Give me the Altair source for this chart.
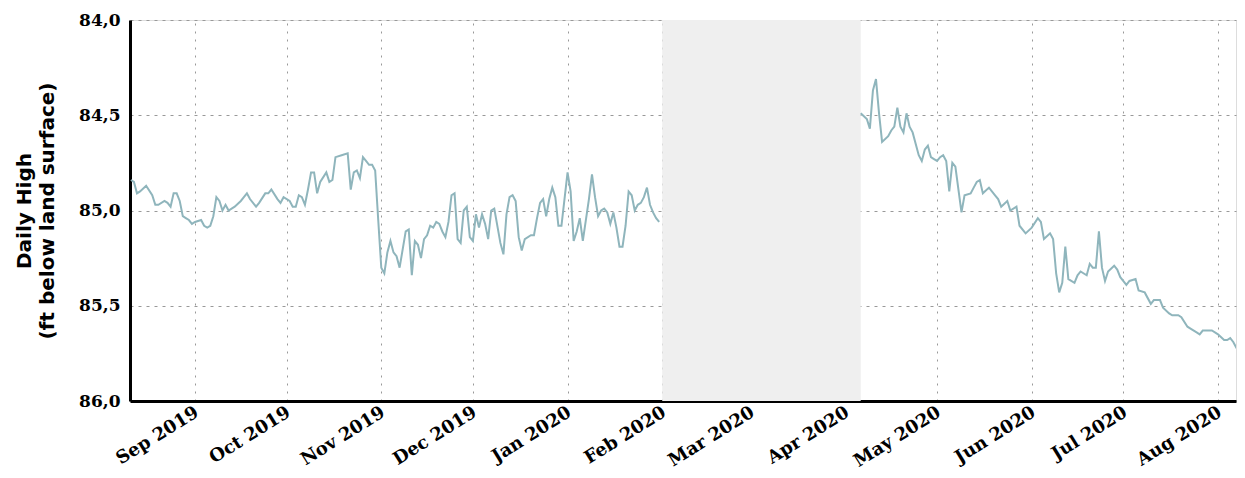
import altair as alt
import pandas as pd

# Segment 1: Aug 2019 - Jan 2020
dates_a = [
    "2019-08-11", "2019-08-12", "2019-08-13", "2019-08-14", "2019-08-16", "2019-08-18",
    "2019-08-19", "2019-08-20", "2019-08-22", "2019-08-23", "2019-08-24", "2019-08-25",
    "2019-08-26", "2019-08-27", "2019-08-28", "2019-08-29", "2019-08-30", "2019-08-31",
    "2019-09-01", "2019-09-03", "2019-09-04", "2019-09-05", "2019-09-06", "2019-09-07",
    "2019-09-08", "2019-09-09", "2019-09-10", "2019-09-11", "2019-09-12", "2019-09-14",
    "2019-09-16", "2019-09-17", "2019-09-18", "2019-09-19", "2019-09-21", "2019-09-22",
    "2019-09-24", "2019-09-25", "2019-09-26", "2019-09-28", "2019-09-29", "2019-09-30",
    "2019-10-02", "2019-10-03", "2019-10-04", "2019-10-05", "2019-10-06", "2019-10-07",
    "2019-10-08", "2019-10-09", "2019-10-10", "2019-10-11", "2019-10-12", "2019-10-14",
    "2019-10-15", "2019-10-16", "2019-10-17", "2019-10-19", "2019-10-21", "2019-10-22",
    "2019-10-23", "2019-10-24", "2019-10-25", "2019-10-26", "2019-10-27", "2019-10-28",
    "2019-10-29", "2019-10-30", "2019-10-31", "2019-11-01", "2019-11-02", "2019-11-03",
    "2019-11-04", "2019-11-05", "2019-11-06", "2019-11-07", "2019-11-09", "2019-11-10",
    "2019-11-11", "2019-11-12", "2019-11-13", "2019-11-14", "2019-11-15", "2019-11-16",
    "2019-11-17", "2019-11-18", "2019-11-19", "2019-11-20", "2019-11-21", "2019-11-22",
    "2019-11-23", "2019-11-24", "2019-11-25", "2019-11-26", "2019-11-27", "2019-11-28",
    "2019-11-29", "2019-11-30", "2019-12-01", "2019-12-02", "2019-12-03", "2019-12-04",
    "2019-12-05", "2019-12-06", "2019-12-07", "2019-12-08", "2019-12-10", "2019-12-11",
    "2019-12-12", "2019-12-13", "2019-12-14", "2019-12-15", "2019-12-16", "2019-12-17",
    "2019-12-18", "2019-12-20", "2019-12-21", "2019-12-22", "2019-12-23", "2019-12-24",
    "2019-12-25", "2019-12-26", "2019-12-27", "2019-12-28", "2019-12-29", "2019-12-30",
    "2019-12-31", "2020-01-01", "2020-01-02", "2020-01-03", "2020-01-04", "2020-01-05",
    "2020-01-06", "2020-01-08", "2020-01-09", "2020-01-10", "2020-01-11", "2020-01-12",
    "2020-01-13", "2020-01-14", "2020-01-15", "2020-01-16", "2020-01-17", "2020-01-18",
    "2020-01-19", "2020-01-20", "2020-01-21", "2020-01-22", "2020-01-23", "2020-01-24",
    "2020-01-25", "2020-01-26", "2020-01-27", "2020-01-28", "2020-01-29", "2020-01-30",
    "2020-01-31",
]
values_a = [
    84.84, 84.85, 84.91, 84.90, 84.87, 84.92,
    84.97, 84.97, 84.95, 84.96, 84.98, 84.91,
    84.91, 84.95, 85.03, 85.04, 85.05, 85.07,
    85.06, 85.05, 85.08, 85.09, 85.08, 85.03,
    84.93, 84.95, 85.00, 84.97, 85.00, 84.98,
    84.95, 84.93, 84.91, 84.94, 84.98, 84.96,
    84.91, 84.91, 84.89, 84.94, 84.96, 84.93,
    84.95, 84.98, 84.98, 84.92, 84.93, 84.97,
    84.89, 84.80, 84.80, 84.91, 84.85, 84.80,
    84.85, 84.84, 84.72, 84.71, 84.70, 84.89,
    84.80, 84.79, 84.83, 84.72, 84.74, 84.76,
    84.76, 84.79, 85.05, 85.30, 85.33, 85.22,
    85.16, 85.22, 85.24, 85.30, 85.11, 85.10,
    85.34, 85.16, 85.18, 85.25, 85.15, 85.13,
    85.08, 85.09, 85.06, 85.07, 85.11, 85.14,
    85.06, 84.92, 84.91, 85.15, 85.17, 85.00,
    84.98, 85.14, 85.16, 85.02, 85.09, 85.02,
    85.07, 85.15, 85.00, 84.99, 85.17, 85.23,
    85.02, 84.93, 84.92, 84.95, 85.14, 85.21,
    85.15, 85.13, 85.13, 85.04, 84.96, 84.94,
    85.03, 84.94, 84.88, 84.93, 85.08, 85.08,
    84.94, 84.80, 84.90, 85.16, 85.11, 85.04,
    85.16, 84.94, 84.81, 84.93, 85.03, 85.00,
    84.99, 85.01, 85.07, 85.01, 85.09, 85.19,
    85.19, 85.08, 84.90, 84.92, 85.00, 84.97,
    84.96, 84.93, 84.88, 84.97, 85.01, 85.04,
    85.06,
]

# Segment 2: Apr 2020 - Aug 2020
dates_b = [
    "2020-04-06", "2020-04-08", "2020-04-09", "2020-04-10", "2020-04-11", "2020-04-12",
    "2020-04-13", "2020-04-15", "2020-04-16", "2020-04-17", "2020-04-18", "2020-04-19",
    "2020-04-20", "2020-04-21", "2020-04-22", "2020-04-23", "2020-04-25", "2020-04-26",
    "2020-04-27", "2020-04-28", "2020-04-29", "2020-04-30", "2020-05-01", "2020-05-02",
    "2020-05-03", "2020-05-04", "2020-05-05", "2020-05-06", "2020-05-07", "2020-05-08",
    "2020-05-09", "2020-05-10", "2020-05-12", "2020-05-13", "2020-05-14", "2020-05-15",
    "2020-05-16", "2020-05-18", "2020-05-20", "2020-05-21", "2020-05-22", "2020-05-24",
    "2020-05-25", "2020-05-27", "2020-05-28", "2020-05-30", "2020-06-01", "2020-06-03",
    "2020-06-04", "2020-06-05", "2020-06-07", "2020-06-08", "2020-06-09", "2020-06-10",
    "2020-06-11", "2020-06-12", "2020-06-13", "2020-06-15", "2020-06-16", "2020-06-17",
    "2020-06-19", "2020-06-20", "2020-06-21", "2020-06-22", "2020-06-23", "2020-06-24",
    "2020-06-25", "2020-06-26", "2020-06-28", "2020-06-29", "2020-06-30", "2020-07-02",
    "2020-07-03", "2020-07-05", "2020-07-06", "2020-07-08", "2020-07-10", "2020-07-11",
    "2020-07-13", "2020-07-14", "2020-07-16", "2020-07-17", "2020-07-19", "2020-07-20",
    "2020-07-22", "2020-07-23", "2020-07-25", "2020-07-26", "2020-07-27", "2020-07-29",
    "2020-07-30", "2020-08-01", "2020-08-03", "2020-08-04", "2020-08-05", "2020-08-06",
    "2020-08-07", "2020-08-08", "2020-08-09",
]
values_b = [
    84.49, 84.52, 84.57, 84.37, 84.31, 84.49,
    84.64, 84.61, 84.58, 84.56, 84.46, 84.56,
    84.59, 84.49, 84.56, 84.59, 84.71, 84.74,
    84.68, 84.66, 84.72, 84.73, 84.74, 84.72,
    84.71, 84.74, 84.90, 84.75, 84.77, 84.89,
    85.01, 84.92, 84.91, 84.88, 84.85, 84.84,
    84.91, 84.88, 84.92, 84.94, 84.98, 84.95,
    85.00, 84.98, 85.08, 85.12, 85.09, 85.04,
    85.06, 85.15, 85.12, 85.15, 85.33, 85.43,
    85.38, 85.19, 85.36, 85.38, 85.34, 85.32,
    85.34, 85.28, 85.30, 85.30, 85.11, 85.30,
    85.37, 85.32, 85.29, 85.31, 85.35, 85.39,
    85.37, 85.36, 85.42, 85.43, 85.49, 85.47,
    85.47, 85.51, 85.54, 85.55, 85.55, 85.56,
    85.61, 85.62, 85.64, 85.65, 85.63, 85.63,
    85.63, 85.65, 85.68, 85.68, 85.67, 85.69,
    85.72, 85.72, 85.70,
]

gap_start = ["2020-02-01"]
gap_end = ["2020-04-06"]
y_ticks = [84.0, 84.5, 85.0, 85.5, 86.0]

df = pd.DataFrame({
    "date": dates_a + dates_b,
    "level": values_a + values_b,
    "segment": ["a"] * len(dates_a) + ["b"] * len(dates_b),
})
gap = pd.DataFrame({"start": gap_start, "end": gap_end})

x_scale = alt.Scale(
    type="utc",
    domain=[
        alt.DateTime(year=2019, month=8, date=10, hours=17, minutes=8, utc=True),
        alt.DateTime(year=2020, month=8, date=6, hours=21, minutes=27, utc=True),
    ],
)
y_scale = alt.Scale(domain=[84, 86], reverse=True, nice=False, zero=False)

band = alt.Chart(gap).mark_rect(color="#efefef").encode(
    x=alt.X("start:T", scale=x_scale),
    x2="end:T",
)

line = alt.Chart(df).mark_line(color="#8fb5bc", strokeWidth=2, clip=True).encode(
    x=alt.X(
        "date:T",
        scale=x_scale,
        title=None,
        axis=alt.Axis(
            format="%b %Y",
            tickCount={"interval": "month", "step": 1},
            labelAngle=-32,
            labelAlign="right",
            labelBaseline="top",
            labelFont="DejaVu Serif",
            labelFontWeight="bold",
            labelFontSize=18,
            labelColor="black",
            labelPadding=2,
            labelOffset=-3,
            labelOverlap=False,
            grid=True,
            gridColor="#999999",
            gridDash=[2, 6],
            gridWidth=1,
            domainColor="black",
            domainWidth=3,
            ticks=False,
        ),
    ),
    y=alt.Y(
        "level:Q",
        scale=y_scale,
        title=["Daily High", "(ft below land surface)"],
        axis=alt.Axis(
            values=y_ticks,
            labelExpr="replace(format(datum.value, '.1f'), '.', ',')",
            labelFont="DejaVu Serif",
            labelFontWeight="bold",
            labelFontSize=17,
            labelColor="black",
            labelPadding=10,
            titleFont="DejaVu Sans",
            titleFontWeight="bold",
            titleFontSize=20,
            titleLineHeight=23,
            titleColor="black",
            titlePadding=21,
            grid=True,
            gridColor="#999999",
            gridDash=[3, 5],
            gridWidth=1,
            domainColor="black",
            domainWidth=3,
            ticks=False,
        ),
    ),
    detail="segment:N",
)

chart = (
    alt.layer(band, line)
    .properties(
        width=1106,
        height=381,
        autosize=alt.AutoSizeParams(type="none"),
        padding={"left": 122, "top": 12, "right": 1, "bottom": 69},
    )
    .configure_view(stroke="black", strokeWidth=2)
    .configure(background="white")
)

chart.save("out.html", embed_options={"renderer": "svg", "actions": False})
